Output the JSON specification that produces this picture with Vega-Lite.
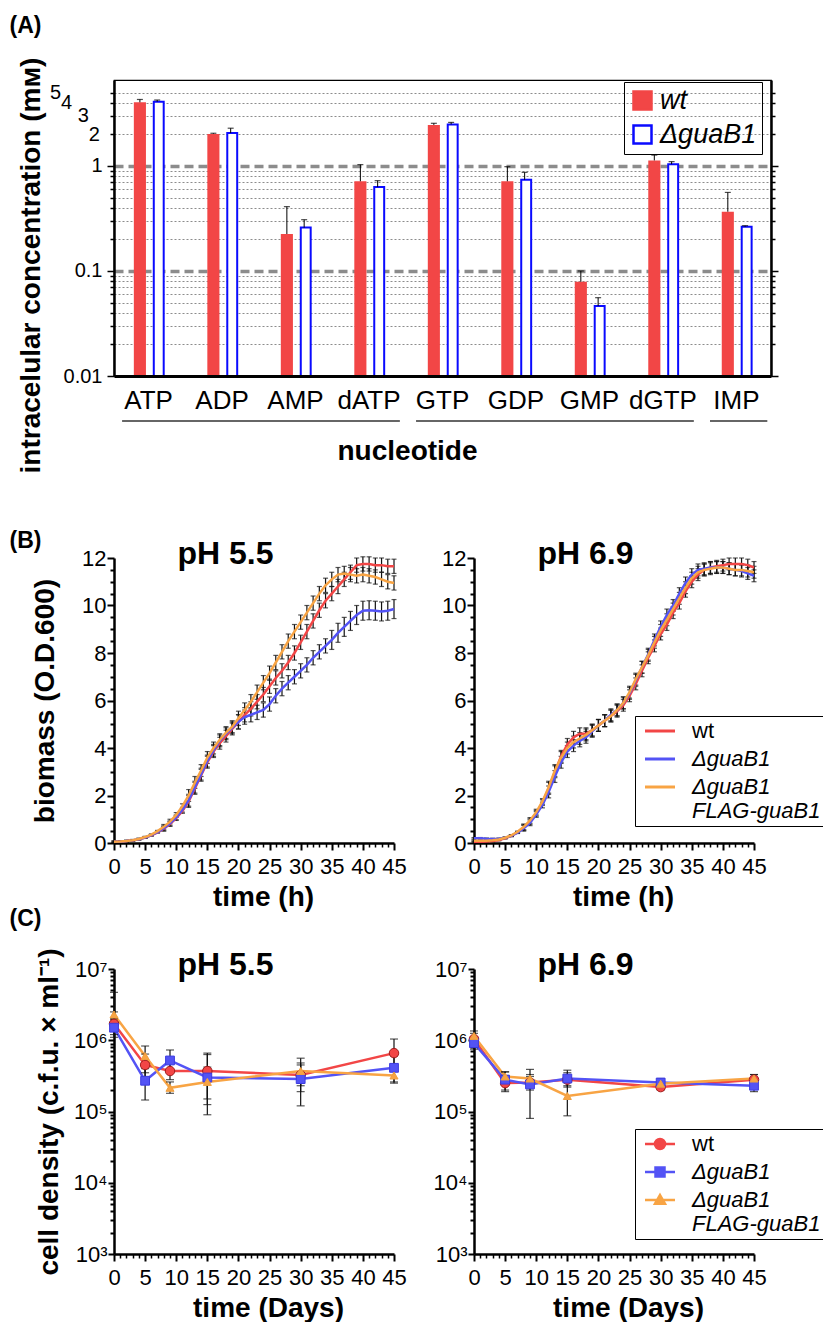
{
  "$schema": "https://vega.github.io/schema/vega-lite/v6.json",
  "background": "white",
  "padding": {"left": 8, "top": 13, "right": 0, "bottom": 0},
  "config": {
    "font": "Liberation Sans",
    "view": {"stroke": null},
    "axis": {"labelFont": "Liberation Sans", "titleFont": "Liberation Sans", "labelColor": "black", "titleColor": "black", "domainColor": "black", "tickColor": "black", "domainWidth": 2.5, "tickWidth": 2, "labelFontSize": 22, "titleFontSize": 28, "titleFontWeight": "bold", "grid": false, "labelOverlap": false, "labelBound": false, "labelFlush": false},
    "legend": {"labelFont": "Liberation Sans", "labelColor": "black"}
  },
  "datasets": {
    "A": [
      {"n":"ATP","s":"wt","v":4.04,"hi":4.3},
      {"n":"ATP","s":"ΔguaB1","v":4.1,"hi":4.25},
      {"n":"ADP","s":"wt","v":2.02,"hi":2.05},
      {"n":"ADP","s":"ΔguaB1","v":2.06,"hi":2.29},
      {"n":"AMP","s":"wt","v":0.225,"hi":0.41},
      {"n":"AMP","s":"ΔguaB1","v":0.259,"hi":0.308},
      {"n":"dATP","s":"wt","v":0.715,"hi":1.03},
      {"n":"dATP","s":"ΔguaB1","v":0.63,"hi":0.725},
      {"n":"GTP","s":"wt","v":2.46,"hi":2.55},
      {"n":"GTP","s":"ΔguaB1","v":2.49,"hi":2.6},
      {"n":"GDP","s":"wt","v":0.715,"hi":0.985},
      {"n":"GDP","s":"ΔguaB1","v":0.74,"hi":0.87},
      {"n":"GMP","s":"wt","v":0.079,"hi":0.1},
      {"n":"GMP","s":"ΔguaB1","v":0.0464,"hi":0.0557},
      {"n":"dGTP","s":"wt","v":1.13,"hi":1.27},
      {"n":"dGTP","s":"ΔguaB1","v":1.04,"hi":1.1},
      {"n":"IMP","s":"wt","v":0.367,"hi":0.56},
      {"n":"IMP","s":"ΔguaB1","v":0.264,"hi":0.27}
    ],
    "ul": [
      {"a":"ATP","b":"dATP"},
      {"a":"GTP","b":"dGTP"},
      {"a":"IMP","b":"IMP"}
    ],
    "B55": [
      {"s":"wt","t":0,"v":0.05,"e":0.03},{"s":"wt","t":1,"v":0.06,"e":0.03},{"s":"wt","t":2,"v":0.08,"e":0.03},{"s":"wt","t":3,"v":0.11,"e":0.03},{"s":"wt","t":4,"v":0.16,"e":0.03},{"s":"wt","t":5,"v":0.23,"e":0.03},{"s":"wt","t":6,"v":0.32,"e":0.03},{"s":"wt","t":7,"v":0.45,"e":0.03},{"s":"wt","t":8,"v":0.6,"e":0.1},{"s":"wt","t":9,"v":0.8,"e":0.1},
      {"s":"wt","t":10,"v":1.05,"e":0.1},{"s":"wt","t":11,"v":1.35,"e":0.1},{"s":"wt","t":12,"v":1.75,"e":0.25},{"s":"wt","t":13,"v":2.3,"e":0.25},{"s":"wt","t":14,"v":2.85,"e":0.25},{"s":"wt","t":15,"v":3.4,"e":0.25},{"s":"wt","t":16,"v":3.85,"e":0.25},{"s":"wt","t":17,"v":4.2,"e":0.25},{"s":"wt","t":18,"v":4.5,"e":0.25},{"s":"wt","t":19,"v":4.8,"e":0.25},
      {"s":"wt","t":20,"v":5.1,"e":0.3},{"s":"wt","t":21,"v":5.4,"e":0.3},{"s":"wt","t":22,"v":5.65,"e":0.3},{"s":"wt","t":23,"v":5.95,"e":0.3},{"s":"wt","t":24,"v":6.25,"e":0.3},{"s":"wt","t":25,"v":6.6,"e":0.3},{"s":"wt","t":26,"v":6.95,"e":0.3},{"s":"wt","t":27,"v":7.25,"e":0.3},{"s":"wt","t":28,"v":7.6,"e":0.3},{"s":"wt","t":29,"v":8.0,"e":0.3},
      {"s":"wt","t":30,"v":8.45,"e":0.3},{"s":"wt","t":31,"v":8.9,"e":0.3},{"s":"wt","t":32,"v":9.35,"e":0.3},{"s":"wt","t":33,"v":9.8,"e":0.3},{"s":"wt","t":34,"v":10.2,"e":0.3},{"s":"wt","t":35,"v":10.5,"e":0.3},{"s":"wt","t":36,"v":10.8,"e":0.3},{"s":"wt","t":37,"v":11.1,"e":0.3},{"s":"wt","t":38,"v":11.4,"e":0.3},{"s":"wt","t":39,"v":11.7,"e":0.3},
      {"s":"wt","t":40,"v":11.75,"e":0.3},{"s":"wt","t":41,"v":11.75,"e":0.3},{"s":"wt","t":42,"v":11.7,"e":0.3},{"s":"wt","t":43,"v":11.7,"e":0.3},{"s":"wt","t":44,"v":11.65,"e":0.3},{"s":"wt","t":45,"v":11.65,"e":0.3},
      {"s":"ΔguaB1","t":0,"v":0.05,"e":0.03},{"s":"ΔguaB1","t":1,"v":0.06,"e":0.03},{"s":"ΔguaB1","t":2,"v":0.08,"e":0.03},{"s":"ΔguaB1","t":3,"v":0.11,"e":0.03},{"s":"ΔguaB1","t":4,"v":0.16,"e":0.03},{"s":"ΔguaB1","t":5,"v":0.23,"e":0.03},{"s":"ΔguaB1","t":6,"v":0.33,"e":0.03},{"s":"ΔguaB1","t":7,"v":0.46,"e":0.03},{"s":"ΔguaB1","t":8,"v":0.62,"e":0.1},{"s":"ΔguaB1","t":9,"v":0.83,"e":0.1},
      {"s":"ΔguaB1","t":10,"v":1.08,"e":0.1},{"s":"ΔguaB1","t":11,"v":1.4,"e":0.1},{"s":"ΔguaB1","t":12,"v":1.8,"e":0.25},{"s":"ΔguaB1","t":13,"v":2.35,"e":0.25},{"s":"ΔguaB1","t":14,"v":2.9,"e":0.25},{"s":"ΔguaB1","t":15,"v":3.45,"e":0.25},{"s":"ΔguaB1","t":16,"v":3.9,"e":0.25},{"s":"ΔguaB1","t":17,"v":4.3,"e":0.25},{"s":"ΔguaB1","t":18,"v":4.6,"e":0.25},{"s":"ΔguaB1","t":19,"v":4.85,"e":0.25},
      {"s":"ΔguaB1","t":20,"v":5.1,"e":0.3},{"s":"ΔguaB1","t":21,"v":5.3,"e":0.3},{"s":"ΔguaB1","t":22,"v":5.4,"e":0.3},{"s":"ΔguaB1","t":23,"v":5.5,"e":0.3},{"s":"ΔguaB1","t":24,"v":5.6,"e":0.3},{"s":"ΔguaB1","t":25,"v":5.85,"e":0.3},{"s":"ΔguaB1","t":26,"v":6.2,"e":0.3},{"s":"ΔguaB1","t":27,"v":6.5,"e":0.3},{"s":"ΔguaB1","t":28,"v":6.75,"e":0.3},{"s":"ΔguaB1","t":29,"v":7.0,"e":0.3},
      {"s":"ΔguaB1","t":30,"v":7.25,"e":0.3},{"s":"ΔguaB1","t":31,"v":7.5,"e":0.3},{"s":"ΔguaB1","t":32,"v":7.8,"e":0.3},{"s":"ΔguaB1","t":33,"v":8.05,"e":0.3},{"s":"ΔguaB1","t":34,"v":8.3,"e":0.3},{"s":"ΔguaB1","t":35,"v":8.55,"e":0.4},{"s":"ΔguaB1","t":36,"v":8.85,"e":0.4},{"s":"ΔguaB1","t":37,"v":9.1,"e":0.4},{"s":"ΔguaB1","t":38,"v":9.35,"e":0.4},{"s":"ΔguaB1","t":39,"v":9.6,"e":0.4},
      {"s":"ΔguaB1","t":40,"v":9.78,"e":0.4},{"s":"ΔguaB1","t":41,"v":9.8,"e":0.4},{"s":"ΔguaB1","t":42,"v":9.78,"e":0.4},{"s":"ΔguaB1","t":43,"v":9.75,"e":0.4},{"s":"ΔguaB1","t":44,"v":9.78,"e":0.4},{"s":"ΔguaB1","t":45,"v":9.85,"e":0.4},
      {"s":"ΔguaB1 FLAG-guaB1","t":0,"v":0.05,"e":0.03},{"s":"ΔguaB1 FLAG-guaB1","t":1,"v":0.06,"e":0.03},{"s":"ΔguaB1 FLAG-guaB1","t":2,"v":0.08,"e":0.03},{"s":"ΔguaB1 FLAG-guaB1","t":3,"v":0.12,"e":0.03},{"s":"ΔguaB1 FLAG-guaB1","t":4,"v":0.17,"e":0.03},{"s":"ΔguaB1 FLAG-guaB1","t":5,"v":0.25,"e":0.03},{"s":"ΔguaB1 FLAG-guaB1","t":6,"v":0.35,"e":0.03},{"s":"ΔguaB1 FLAG-guaB1","t":7,"v":0.5,"e":0.03},{"s":"ΔguaB1 FLAG-guaB1","t":8,"v":0.68,"e":0.1},{"s":"ΔguaB1 FLAG-guaB1","t":9,"v":0.9,"e":0.1},
      {"s":"ΔguaB1 FLAG-guaB1","t":10,"v":1.18,"e":0.1},{"s":"ΔguaB1 FLAG-guaB1","t":11,"v":1.55,"e":0.1},{"s":"ΔguaB1 FLAG-guaB1","t":12,"v":2.0,"e":0.25},{"s":"ΔguaB1 FLAG-guaB1","t":13,"v":2.55,"e":0.25},{"s":"ΔguaB1 FLAG-guaB1","t":14,"v":3.05,"e":0.25},{"s":"ΔguaB1 FLAG-guaB1","t":15,"v":3.6,"e":0.25},{"s":"ΔguaB1 FLAG-guaB1","t":16,"v":4.0,"e":0.25},{"s":"ΔguaB1 FLAG-guaB1","t":17,"v":4.35,"e":0.25},{"s":"ΔguaB1 FLAG-guaB1","t":18,"v":4.65,"e":0.25},{"s":"ΔguaB1 FLAG-guaB1","t":19,"v":4.9,"e":0.25},
      {"s":"ΔguaB1 FLAG-guaB1","t":20,"v":5.25,"e":0.3},{"s":"ΔguaB1 FLAG-guaB1","t":21,"v":5.6,"e":0.3},{"s":"ΔguaB1 FLAG-guaB1","t":22,"v":5.95,"e":0.3},{"s":"ΔguaB1 FLAG-guaB1","t":23,"v":6.35,"e":0.3},{"s":"ΔguaB1 FLAG-guaB1","t":24,"v":6.75,"e":0.3},{"s":"ΔguaB1 FLAG-guaB1","t":25,"v":7.15,"e":0.3},{"s":"ΔguaB1 FLAG-guaB1","t":26,"v":7.6,"e":0.3},{"s":"ΔguaB1 FLAG-guaB1","t":27,"v":8.05,"e":0.3},{"s":"ΔguaB1 FLAG-guaB1","t":28,"v":8.5,"e":0.3},{"s":"ΔguaB1 FLAG-guaB1","t":29,"v":8.9,"e":0.3},
      {"s":"ΔguaB1 FLAG-guaB1","t":30,"v":9.3,"e":0.3},{"s":"ΔguaB1 FLAG-guaB1","t":31,"v":9.7,"e":0.3},{"s":"ΔguaB1 FLAG-guaB1","t":32,"v":10.1,"e":0.3},{"s":"ΔguaB1 FLAG-guaB1","t":33,"v":10.5,"e":0.3},{"s":"ΔguaB1 FLAG-guaB1","t":34,"v":10.85,"e":0.3},{"s":"ΔguaB1 FLAG-guaB1","t":35,"v":11.1,"e":0.3},{"s":"ΔguaB1 FLAG-guaB1","t":36,"v":11.3,"e":0.3},{"s":"ΔguaB1 FLAG-guaB1","t":37,"v":11.35,"e":0.3},{"s":"ΔguaB1 FLAG-guaB1","t":38,"v":11.3,"e":0.3},{"s":"ΔguaB1 FLAG-guaB1","t":39,"v":11.25,"e":0.3},
      {"s":"ΔguaB1 FLAG-guaB1","t":40,"v":11.3,"e":0.3},{"s":"ΔguaB1 FLAG-guaB1","t":41,"v":11.25,"e":0.3},{"s":"ΔguaB1 FLAG-guaB1","t":42,"v":11.2,"e":0.3},{"s":"ΔguaB1 FLAG-guaB1","t":43,"v":11.1,"e":0.3},{"s":"ΔguaB1 FLAG-guaB1","t":44,"v":11.0,"e":0.3},{"s":"ΔguaB1 FLAG-guaB1","t":45,"v":10.95,"e":0.3}
    ],
    "B69": [
      {"s":"wt","t":0,"v":0.05,"e":0.03},{"s":"wt","t":1,"v":0.05,"e":0.03},{"s":"wt","t":2,"v":0.06,"e":0.03},{"s":"wt","t":3,"v":0.08,"e":0.03},{"s":"wt","t":4,"v":0.12,"e":0.03},{"s":"wt","t":5,"v":0.2,"e":0.03},{"s":"wt","t":6,"v":0.3,"e":0.03},{"s":"wt","t":7,"v":0.45,"e":0.03},{"s":"wt","t":8,"v":0.65,"e":0.12},{"s":"wt","t":9,"v":0.9,"e":0.12},
      {"s":"wt","t":10,"v":1.25,"e":0.12},{"s":"wt","t":11,"v":1.7,"e":0.12},{"s":"wt","t":12,"v":2.3,"e":0.25},{"s":"wt","t":13,"v":3.0,"e":0.25},{"s":"wt","t":14,"v":3.65,"e":0.25},{"s":"wt","t":15,"v":4.15,"e":0.25},{"s":"wt","t":16,"v":4.45,"e":0.25},{"s":"wt","t":17,"v":4.6,"e":0.25},{"s":"wt","t":18,"v":4.6,"e":0.25},{"s":"wt","t":19,"v":4.75,"e":0.25},
      {"s":"wt","t":20,"v":4.95,"e":0.25},{"s":"wt","t":21,"v":5.15,"e":0.25},{"s":"wt","t":22,"v":5.35,"e":0.25},{"s":"wt","t":23,"v":5.55,"e":0.25},{"s":"wt","t":24,"v":5.8,"e":0.25},{"s":"wt","t":25,"v":6.2,"e":0.25},{"s":"wt","t":26,"v":6.7,"e":0.25},{"s":"wt","t":27,"v":7.25,"e":0.25},{"s":"wt","t":28,"v":7.8,"e":0.25},{"s":"wt","t":29,"v":8.3,"e":0.25},
      {"s":"wt","t":30,"v":8.8,"e":0.25},{"s":"wt","t":31,"v":9.2,"e":0.25},{"s":"wt","t":32,"v":9.7,"e":0.25},{"s":"wt","t":33,"v":10.1,"e":0.25},{"s":"wt","t":34,"v":10.6,"e":0.25},{"s":"wt","t":35,"v":11.0,"e":0.25},{"s":"wt","t":36,"v":11.3,"e":0.25},{"s":"wt","t":37,"v":11.5,"e":0.25},{"s":"wt","t":38,"v":11.6,"e":0.25},{"s":"wt","t":39,"v":11.65,"e":0.25},
      {"s":"wt","t":40,"v":11.7,"e":0.25},{"s":"wt","t":41,"v":11.75,"e":0.25},{"s":"wt","t":42,"v":11.75,"e":0.25},{"s":"wt","t":43,"v":11.75,"e":0.25},{"s":"wt","t":44,"v":11.7,"e":0.25},{"s":"wt","t":45,"v":11.6,"e":0.25},
      {"s":"ΔguaB1","t":0,"v":0.2,"e":0.03},{"s":"ΔguaB1","t":1,"v":0.2,"e":0.03},{"s":"ΔguaB1","t":2,"v":0.18,"e":0.03},{"s":"ΔguaB1","t":3,"v":0.17,"e":0.03},{"s":"ΔguaB1","t":4,"v":0.18,"e":0.03},{"s":"ΔguaB1","t":5,"v":0.22,"e":0.03},{"s":"ΔguaB1","t":6,"v":0.3,"e":0.03},{"s":"ΔguaB1","t":7,"v":0.43,"e":0.03},{"s":"ΔguaB1","t":8,"v":0.62,"e":0.12},{"s":"ΔguaB1","t":9,"v":0.85,"e":0.12},
      {"s":"ΔguaB1","t":10,"v":1.2,"e":0.12},{"s":"ΔguaB1","t":11,"v":1.6,"e":0.12},{"s":"ΔguaB1","t":12,"v":2.15,"e":0.25},{"s":"ΔguaB1","t":13,"v":2.8,"e":0.25},{"s":"ΔguaB1","t":14,"v":3.4,"e":0.25},{"s":"ΔguaB1","t":15,"v":3.85,"e":0.25},{"s":"ΔguaB1","t":16,"v":4.1,"e":0.25},{"s":"ΔguaB1","t":17,"v":4.3,"e":0.25},{"s":"ΔguaB1","t":18,"v":4.45,"e":0.25},{"s":"ΔguaB1","t":19,"v":4.7,"e":0.25},
      {"s":"ΔguaB1","t":20,"v":4.95,"e":0.25},{"s":"ΔguaB1","t":21,"v":5.15,"e":0.25},{"s":"ΔguaB1","t":22,"v":5.4,"e":0.25},{"s":"ΔguaB1","t":23,"v":5.6,"e":0.25},{"s":"ΔguaB1","t":24,"v":5.9,"e":0.25},{"s":"ΔguaB1","t":25,"v":6.3,"e":0.25},{"s":"ΔguaB1","t":26,"v":6.85,"e":0.25},{"s":"ΔguaB1","t":27,"v":7.4,"e":0.25},{"s":"ΔguaB1","t":28,"v":7.95,"e":0.25},{"s":"ΔguaB1","t":29,"v":8.55,"e":0.25},
      {"s":"ΔguaB1","t":30,"v":9.1,"e":0.25},{"s":"ΔguaB1","t":31,"v":9.6,"e":0.25},{"s":"ΔguaB1","t":32,"v":10.0,"e":0.25},{"s":"ΔguaB1","t":33,"v":10.5,"e":0.25},{"s":"ΔguaB1","t":34,"v":10.95,"e":0.25},{"s":"ΔguaB1","t":35,"v":11.3,"e":0.25},{"s":"ΔguaB1","t":36,"v":11.5,"e":0.25},{"s":"ΔguaB1","t":37,"v":11.55,"e":0.25},{"s":"ΔguaB1","t":38,"v":11.6,"e":0.25},{"s":"ΔguaB1","t":39,"v":11.6,"e":0.25},
      {"s":"ΔguaB1","t":40,"v":11.6,"e":0.25},{"s":"ΔguaB1","t":41,"v":11.55,"e":0.25},{"s":"ΔguaB1","t":42,"v":11.5,"e":0.25},{"s":"ΔguaB1","t":43,"v":11.45,"e":0.25},{"s":"ΔguaB1","t":44,"v":11.35,"e":0.25},{"s":"ΔguaB1","t":45,"v":11.25,"e":0.25},
      {"s":"ΔguaB1 FLAG-guaB1","t":0,"v":0.1,"e":0.03},{"s":"ΔguaB1 FLAG-guaB1","t":1,"v":0.1,"e":0.03},{"s":"ΔguaB1 FLAG-guaB1","t":2,"v":0.1,"e":0.03},{"s":"ΔguaB1 FLAG-guaB1","t":3,"v":0.12,"e":0.03},{"s":"ΔguaB1 FLAG-guaB1","t":4,"v":0.15,"e":0.03},{"s":"ΔguaB1 FLAG-guaB1","t":5,"v":0.22,"e":0.03},{"s":"ΔguaB1 FLAG-guaB1","t":6,"v":0.32,"e":0.03},{"s":"ΔguaB1 FLAG-guaB1","t":7,"v":0.47,"e":0.03},{"s":"ΔguaB1 FLAG-guaB1","t":8,"v":0.68,"e":0.12},{"s":"ΔguaB1 FLAG-guaB1","t":9,"v":0.95,"e":0.12},
      {"s":"ΔguaB1 FLAG-guaB1","t":10,"v":1.3,"e":0.12},{"s":"ΔguaB1 FLAG-guaB1","t":11,"v":1.75,"e":0.12},{"s":"ΔguaB1 FLAG-guaB1","t":12,"v":2.35,"e":0.25},{"s":"ΔguaB1 FLAG-guaB1","t":13,"v":3.05,"e":0.25},{"s":"ΔguaB1 FLAG-guaB1","t":14,"v":3.6,"e":0.25},{"s":"ΔguaB1 FLAG-guaB1","t":15,"v":4.0,"e":0.25},{"s":"ΔguaB1 FLAG-guaB1","t":16,"v":4.25,"e":0.25},{"s":"ΔguaB1 FLAG-guaB1","t":17,"v":4.4,"e":0.25},{"s":"ΔguaB1 FLAG-guaB1","t":18,"v":4.55,"e":0.25},{"s":"ΔguaB1 FLAG-guaB1","t":19,"v":4.75,"e":0.25},
      {"s":"ΔguaB1 FLAG-guaB1","t":20,"v":4.95,"e":0.25},{"s":"ΔguaB1 FLAG-guaB1","t":21,"v":5.15,"e":0.25},{"s":"ΔguaB1 FLAG-guaB1","t":22,"v":5.35,"e":0.25},{"s":"ΔguaB1 FLAG-guaB1","t":23,"v":5.6,"e":0.25},{"s":"ΔguaB1 FLAG-guaB1","t":24,"v":5.9,"e":0.25},{"s":"ΔguaB1 FLAG-guaB1","t":25,"v":6.35,"e":0.25},{"s":"ΔguaB1 FLAG-guaB1","t":26,"v":6.9,"e":0.25},{"s":"ΔguaB1 FLAG-guaB1","t":27,"v":7.4,"e":0.25},{"s":"ΔguaB1 FLAG-guaB1","t":28,"v":7.9,"e":0.25},{"s":"ΔguaB1 FLAG-guaB1","t":29,"v":8.45,"e":0.25},
      {"s":"ΔguaB1 FLAG-guaB1","t":30,"v":8.95,"e":0.25},{"s":"ΔguaB1 FLAG-guaB1","t":31,"v":9.4,"e":0.25},{"s":"ΔguaB1 FLAG-guaB1","t":32,"v":9.85,"e":0.25},{"s":"ΔguaB1 FLAG-guaB1","t":33,"v":10.3,"e":0.25},{"s":"ΔguaB1 FLAG-guaB1","t":34,"v":10.75,"e":0.25},{"s":"ΔguaB1 FLAG-guaB1","t":35,"v":11.15,"e":0.25},{"s":"ΔguaB1 FLAG-guaB1","t":36,"v":11.4,"e":0.25},{"s":"ΔguaB1 FLAG-guaB1","t":37,"v":11.5,"e":0.25},{"s":"ΔguaB1 FLAG-guaB1","t":38,"v":11.55,"e":0.25},{"s":"ΔguaB1 FLAG-guaB1","t":39,"v":11.6,"e":0.25},
      {"s":"ΔguaB1 FLAG-guaB1","t":40,"v":11.6,"e":0.25},{"s":"ΔguaB1 FLAG-guaB1","t":41,"v":11.55,"e":0.25},{"s":"ΔguaB1 FLAG-guaB1","t":42,"v":11.5,"e":0.25},{"s":"ΔguaB1 FLAG-guaB1","t":43,"v":11.5,"e":0.25},{"s":"ΔguaB1 FLAG-guaB1","t":44,"v":11.45,"e":0.25},{"s":"ΔguaB1 FLAG-guaB1","t":45,"v":11.4,"e":0.25}
    ],
    "C55": [
      {"s":"wt","t":0,"v":1700000,"lo":1200000,"hi":2500000},
      {"s":"wt","t":5,"v":450000,"lo":240000,"hi":640000},
      {"s":"wt","t":9,"v":370000,"lo":280000,"hi":500000},
      {"s":"wt","t":15,"v":370000,"lo":125000,"hi":630000},
      {"s":"wt","t":30,"v":325000,"lo":190000,"hi":560000},
      {"s":"wt","t":45,"v":660000,"lo":420000,"hi":1040000},
      {"s":"ΔguaB1","t":0,"v":1500000,"lo":1100000,"hi":2000000},
      {"s":"ΔguaB1","t":5,"v":270000,"lo":145000,"hi":400000},
      {"s":"ΔguaB1","t":9,"v":520000,"lo":360000,"hi":730000},
      {"s":"ΔguaB1","t":15,"v":300000,"lo":90000,"hi":660000},
      {"s":"ΔguaB1","t":30,"v":285000,"lo":120000,"hi":450000},
      {"s":"ΔguaB1","t":45,"v":410000,"lo":260000,"hi":600000},
      {"s":"ΔguaB1 FLAG-guaB1","t":0,"v":2300000,"lo":1400000,"hi":4700000},
      {"s":"ΔguaB1 FLAG-guaB1","t":5,"v":600000,"lo":350000,"hi":830000},
      {"s":"ΔguaB1 FLAG-guaB1","t":9,"v":215000,"lo":180000,"hi":260000},
      {"s":"ΔguaB1 FLAG-guaB1","t":15,"v":260000,"lo":150000,"hi":420000},
      {"s":"ΔguaB1 FLAG-guaB1","t":30,"v":370000,"lo":230000,"hi":480000},
      {"s":"ΔguaB1 FLAG-guaB1","t":45,"v":320000,"lo":250000,"hi":400000}
    ],
    "C69": [
      {"s":"wt","t":0,"v":1040000,"lo":900000,"hi":1250000},
      {"s":"wt","t":5,"v":250000,"lo":190000,"hi":320000},
      {"s":"wt","t":9,"v":255000,"lo":200000,"hi":390000},
      {"s":"wt","t":15,"v":280000,"lo":220000,"hi":380000},
      {"s":"wt","t":30,"v":220000,"lo":200000,"hi":240000},
      {"s":"wt","t":45,"v":280000,"lo":240000,"hi":330000},
      {"s":"ΔguaB1","t":0,"v":910000,"lo":750000,"hi":1100000},
      {"s":"ΔguaB1","t":5,"v":280000,"lo":200000,"hi":360000},
      {"s":"ΔguaB1","t":9,"v":240000,"lo":80000,"hi":310000},
      {"s":"ΔguaB1","t":15,"v":290000,"lo":230000,"hi":350000},
      {"s":"ΔguaB1","t":30,"v":255000,"lo":220000,"hi":290000},
      {"s":"ΔguaB1","t":45,"v":230000,"lo":190000,"hi":270000},
      {"s":"ΔguaB1 FLAG-guaB1","t":0,"v":1150000,"lo":950000,"hi":1350000},
      {"s":"ΔguaB1 FLAG-guaB1","t":5,"v":310000,"lo":250000,"hi":360000},
      {"s":"ΔguaB1 FLAG-guaB1","t":9,"v":290000,"lo":230000,"hi":330000},
      {"s":"ΔguaB1 FLAG-guaB1","t":15,"v":165000,"lo":87000,"hi":260000},
      {"s":"ΔguaB1 FLAG-guaB1","t":30,"v":245000,"lo":220000,"hi":270000},
      {"s":"ΔguaB1 FLAG-guaB1","t":45,"v":290000,"lo":250000,"hi":330000}
    ]
  },
  "spacing": 182,
  "bounds": "flush",
  "resolve": {
    "scale": {"x": "independent", "y": "independent", "xOffset": "independent", "color": "independent", "fill": "independent", "stroke": "independent", "shape": "independent", "size": "independent"},
    "axis": {"x": "independent", "y": "independent"},
    "legend": {"color": "independent", "fill": "independent", "stroke": "independent", "shape": "independent", "size": "independent"}
  },
  "vconcat": [
    {
      "width": 657,
      "height": 296,
      "view": {"stroke": "black", "strokeWidth": 1.2},
      "data": {"name": "A"},
      "layer": [
        {
          "transform": [{"filter": "datum.s == 'wt'"}],
          "mark": {"type": "bar", "strokeWidth": 0},
          "encoding": {
            "x": {"field": "n", "type": "nominal", "scale": {"domain": ["ATP","ADP","AMP","dATP","GTP","GDP","GMP","dGTP","IMP"], "paddingInner": 0.6, "paddingOuter": 0.27},
              "axis": {"orient": "bottom", "title": "nucleotide", "ticks": false, "labelAngle": 0, "labelFontSize": 26, "labelPadding": 11, "titlePadding": 24, "titleX": 293, "domainWidth": 3, "zindex": 1}},
            "xOffset": {"field": "s", "type": "nominal", "scale": {"domain": ["wt","ΔguaB1"], "paddingInner": 0.3, "paddingOuter": 0}},
            "y": {"field": "v", "type": "quantitative", "scale": {"type": "log", "domain": [0.01, 6.59], "nice": false},
              "axis": {"orient": "left", "values": [0.01,0.02,0.03,0.04,0.05,0.06,0.07,0.08,0.09,0.1,0.2,0.3,0.4,0.5,0.6,0.7,0.8,0.9,1,2,3,4,5],
                "labelExpr": "datum.value == 0.01 ? '0.01' : datum.value == 0.1 ? '0.1' : datum.value == 1 ? '1' : datum.value == 2 ? '2\u00a0\u200b' : datum.value == 3 ? '3\u00a0\u00a0\u00a0\u200b' : datum.value == 4 ? '4\u00a0\u00a0\u00a0\u00a0\u00a0\u00a0\u200b' : datum.value == 5 ? '5\u00a0\u00a0\u00a0\u00a0\u00a0\u00a0\u00a0\u00a0\u200b' : ''",
                "labelFontSize": 20, "labelPadding": 5,
                "tickSize": {"condition": {"test": "datum.value == 0.01 || datum.value == 0.1 || datum.value == 1", "value": 7}, "value": 4},
                "tickWidth": 1.5,
                "grid": true, "gridColor": "#8c8c8c",
                "gridDash": {"condition": {"test": "datum.value == 0.1 || datum.value == 1", "value": [9, 5]}, "value": [2, 2]},
                "gridWidth": {"condition": {"test": "datum.value == 0.1 || datum.value == 1", "value": 3.5}, "value": 1},
                "title": "intracelular concentration (mᴍ)", "titleY": 185, "titlePadding": 4}},
            "y2": {"datum": 0.01},
            "fill": {"field": "s", "type": "nominal", "scale": {"domain": ["wt","ΔguaB1"], "range": ["#f24646","white"]},
              "legend": {"title": null, "orient": "none", "legendX": 510, "legendY": 2, "symbolType": "square", "symbolSize": 324, "symbolStrokeWidth": 2.5, "labelFontSize": 27, "labelFontStyle": "italic", "labelOffset": 4, "strokeColor": "black", "padding": 5, "rowPadding": 5}},
            "stroke": {"field": "s", "type": "nominal", "scale": {"domain": ["wt","ΔguaB1"], "range": ["#f24646","#0a0aff"]},
              "legend": {"title": null, "orient": "none", "legendX": 510, "legendY": 2, "symbolType": "square", "symbolSize": 324, "symbolStrokeWidth": 2.5, "labelFontSize": 27, "labelFontStyle": "italic", "labelOffset": 4, "strokeColor": "black", "padding": 5, "rowPadding": 5}}
          }
        },
        {
          "transform": [{"filter": "datum.s != 'wt'"}],
          "mark": {"type": "bar", "fill": "white", "stroke": "#0a0aff", "strokeWidth": 2, "width": {"band": 0.82}},
          "encoding": {
            "x": {"field": "n", "type": "nominal", "scale": {"domain": ["ATP","ADP","AMP","dATP","GTP","GDP","GMP","dGTP","IMP"]},
              "axis": {"orient": "top", "domain": false, "ticks": false, "labels": false, "title": "(A)", "titleFontSize": 23, "titleX": -105, "titleY": -48, "titleAlign": "left", "titleBaseline": "alphabetic"}},
            "xOffset": {"field": "s", "type": "nominal", "scale": {"domain": ["wt","ΔguaB1"]}},
            "y": {"field": "v", "type": "quantitative",
              "axis": {"orient": "right", "values": [0.01,0.02,0.03,0.04,0.05,0.06,0.07,0.08,0.09,0.1,0.2,0.3,0.4,0.5,0.6,0.7,0.8,0.9,1,2,3,4,5], "labels": false, "title": null, "grid": false,
                "tickSize": {"condition": {"test": "datum.value == 0.01 || datum.value == 0.1 || datum.value == 1", "value": 7}, "value": 4}, "tickWidth": 1.5}},
            "y2": {"datum": 0.01}
          }
        },
        {
          "mark": {"type": "rule", "color": "black", "strokeWidth": 1},
          "encoding": {
            "x": {"field": "n", "type": "nominal", "scale": {"domain": ["ATP","ADP","AMP","dATP","GTP","GDP","GMP","dGTP","IMP"]}, "axis": null},
            "xOffset": {"field": "s", "type": "nominal", "scale": {"domain": ["wt","ΔguaB1"]}},
            "y": {"field": "v", "type": "quantitative", "axis": null},
            "y2": {"field": "hi"}
          }
        },
        {
          "mark": {"type": "tick", "color": "black", "size": 6, "thickness": 1.2},
          "encoding": {
            "x": {"field": "n", "type": "nominal", "scale": {"domain": ["ATP","ADP","AMP","dATP","GTP","GDP","GMP","dGTP","IMP"]}, "axis": null},
            "xOffset": {"field": "s", "type": "nominal", "scale": {"domain": ["wt","ΔguaB1"]}},
            "y": {"field": "hi", "type": "quantitative", "axis": null}
          }
        },
        {
          "data": {"name": "ul"},
          "mark": {"type": "rule", "color": "#333333", "strokeWidth": 1.5},
          "encoding": {
            "x": {"field": "a", "type": "nominal", "scale": {"domain": ["ATP","ADP","AMP","dATP","GTP","GDP","GMP","dGTP","IMP"]}, "bandPosition": -0.4, "axis": null},
            "x2": {"field": "b", "bandPosition": 1.55},
            "y": {"datum": 0.00373, "axis": null}
          }
        }
      ],
      "resolve": {"axis": {"x": "independent", "y": "independent"}}
    },
    {
      "columns": 2,
      "spacing": {"row": 126, "column": 80},
      "bounds": "flush",
      "resolve": {
        "scale": {"x": "independent", "y": "independent", "color": "independent", "stroke": "independent", "shape": "independent", "size": "independent"},
        "axis": {"x": "independent", "y": "independent"},
        "legend": {"color": "independent", "stroke": "independent", "shape": "independent", "size": "independent"}
      },
      "concat": [
        {
          "width": 280, "height": 285,
          "data": {"name": "B55"},
          "layer": [
            {
              "mark": {"type": "errorbar", "ticks": true, "size": 5, "thickness": 1.2, "color": "#111111"},
              "encoding": {
                "x": {"field": "t", "type": "quantitative", "scale": {"domain": [0, 45], "nice": false},
                  "axis": {"orient": "bottom", "values": [0,1,2,3,4,5,6,7,8,9,10,11,12,13,14,15,16,17,18,19,20,21,22,23,24,25,26,27,28,29,30,31,32,33,34,35,36,37,38,39,40,41,42,43,44,45],
                    "labelExpr": "datum.value % 5 == 0 ? datum.label : ''",
                    "tickSize": {"condition": {"test": "datum.value % 5 == 0", "value": 7}, "value": 4},
                    "tickWidth": {"condition": {"test": "datum.value % 5 == 0", "value": 2}, "value": 1.5},
                    "labelPadding": 6, "title": "time (h)", "titleX": 149, "titlePadding": 6}},
                "y": {"field": "v", "type": "quantitative", "scale": {"domain": [0, 12], "nice": false},
                  "axis": {"orient": "left", "values": [0,0.5,1,1.5,2,2.5,3,3.5,4,4.5,5,5.5,6,6.5,7,7.5,8,8.5,9,9.5,10,10.5,11,11.5,12],
                    "labelExpr": "datum.value % 2 == 0 ? format(datum.value, 'd') : ''",
                    "tickSize": {"condition": {"test": "datum.value % 2 == 0", "value": 7}, "value": 4},
                    "labelPadding": 1, "title": "biomass (O.D.600)", "titlePadding": 22}},
                "yError": {"field": "e"}
              }
            },
            {
              "mark": {"type": "line", "strokeWidth": 2.5},
              "encoding": {
                "x": {"field": "t", "type": "quantitative",
                  "axis": {"orient": "top", "domain": false, "ticks": false, "labels": false, "title": "pH 5.5", "titleFontSize": 32, "titleX": 111, "titleY": 5, "titleAlign": "center", "titleBaseline": "alphabetic"}},
                "y": {"field": "v", "type": "quantitative",
                  "axis": {"orient": "right", "domain": false, "ticks": false, "labels": false, "title": "(B)", "titleFontSize": 23, "titleAngle": 0, "titleX": -385, "titleY": -11, "titleAlign": "left", "titleBaseline": "alphabetic"}},
                "color": {"field": "s", "type": "nominal", "scale": {"domain": ["wt","ΔguaB1","ΔguaB1 FLAG-guaB1"], "range": ["#f24646","#5353f5","#f8a444"]}, "legend": null}
              }
            }
          ],
          "resolve": {"axis": {"x": "independent", "y": "independent"}}
        },
        {
          "width": 280, "height": 285,
          "data": {"name": "B69"},
          "layer": [
            {
              "mark": {"type": "errorbar", "ticks": true, "size": 5, "thickness": 1.2, "color": "#111111"},
              "encoding": {
                "x": {"field": "t", "type": "quantitative", "scale": {"domain": [0, 45], "nice": false},
                  "axis": {"orient": "bottom", "values": [0,1,2,3,4,5,6,7,8,9,10,11,12,13,14,15,16,17,18,19,20,21,22,23,24,25,26,27,28,29,30,31,32,33,34,35,36,37,38,39,40,41,42,43,44,45],
                    "labelExpr": "datum.value % 5 == 0 ? datum.label : ''",
                    "tickSize": {"condition": {"test": "datum.value % 5 == 0", "value": 7}, "value": 4},
                    "tickWidth": {"condition": {"test": "datum.value % 5 == 0", "value": 2}, "value": 1.5},
                    "labelPadding": 6, "title": "time (h)", "titleX": 149, "titlePadding": 6}},
                "y": {"field": "v", "type": "quantitative", "scale": {"domain": [0, 12], "nice": false},
                  "axis": {"orient": "left", "values": [0,0.5,1,1.5,2,2.5,3,3.5,4,4.5,5,5.5,6,6.5,7,7.5,8,8.5,9,9.5,10,10.5,11,11.5,12],
                    "labelExpr": "datum.value % 2 == 0 ? format(datum.value, 'd') : ''",
                    "tickSize": {"condition": {"test": "datum.value % 2 == 0", "value": 7}, "value": 4},
                    "labelPadding": 1, "title": null}},
                "yError": {"field": "e"}
              }
            },
            {
              "mark": {"type": "line", "strokeWidth": 2.5},
              "encoding": {
                "x": {"field": "t", "type": "quantitative",
                  "axis": {"orient": "top", "domain": false, "ticks": false, "labels": false, "title": "pH 6.9", "titleFontSize": 32, "titleX": 111, "titleY": 5, "titleAlign": "center", "titleBaseline": "alphabetic"}},
                "y": {"field": "v", "type": "quantitative", "axis": null},
                "color": {"field": "s", "type": "nominal", "scale": {"domain": ["wt","ΔguaB1","ΔguaB1 FLAG-guaB1"], "range": ["#f24646","#5353f5","#f8a444"]},
                  "legend": {"title": null, "orient": "none", "legendX": 161, "legendY": 158, "symbolType": "M-1,0H5", "symbolSize": 100, "symbolStrokeWidth": 3, "labelFontSize": 22, "labelOffset": 31, "strokeColor": "black", "padding": 4, "rowPadding": 6,
                    "labelExpr": "datum.value == 'ΔguaB1 FLAG-guaB1' ? ['ΔguaB1', 'FLAG-guaB1'] : datum.value",
                    "encode": {"labels": {"update": {"fontStyle": {"signal": "datum.value == 'wt' ? 'normal' : 'italic'"}}}}}}
              }
            }
          ],
          "resolve": {"axis": {"x": "independent", "y": "independent"}}
        },
        {
          "width": 280, "height": 285,
          "data": {"name": "C55"},
          "layer": [
            {
              "mark": {"type": "line", "strokeWidth": 2.5},
              "encoding": {
                "x": {"field": "t", "type": "quantitative", "scale": {"domain": [0, 45], "nice": false},
                  "axis": {"orient": "top", "domain": false, "ticks": false, "labels": false, "title": "pH 5.5", "titleFontSize": 32, "titleX": 111, "titleY": 5, "titleAlign": "center", "titleBaseline": "alphabetic"}},
                "y": {"field": "v", "type": "quantitative", "scale": {"type": "log", "domain": [1000, 10000000], "nice": false},
                  "axis": {"orient": "right", "domain": false, "ticks": false, "labels": false, "title": "(C)", "titleFontSize": 23, "titleAngle": 0, "titleX": -385, "titleY": -44, "titleAlign": "left", "titleBaseline": "alphabetic"}},
                "color": {"field": "s", "type": "nominal", "scale": {"domain": ["wt","ΔguaB1","ΔguaB1 FLAG-guaB1"], "range": ["#f24646","#5353f5","#f8a444"]}, "legend": null}
              }
            },
            {
              "mark": {"type": "errorbar", "ticks": true, "size": 8, "thickness": 1.2, "color": "#111111"},
              "encoding": {
                "x": {"field": "t", "type": "quantitative",
                  "axis": {"orient": "bottom", "values": [0,1,2,3,4,5,6,7,8,9,10,11,12,13,14,15,16,17,18,19,20,21,22,23,24,25,26,27,28,29,30,31,32,33,34,35,36,37,38,39,40,41,42,43,44,45],
                    "labelExpr": "datum.value % 5 == 0 ? datum.label : ''",
                    "tickSize": {"condition": {"test": "datum.value % 5 == 0", "value": 7}, "value": 4},
                    "tickWidth": {"condition": {"test": "datum.value % 5 == 0", "value": 2}, "value": 1.5},
                    "labelPadding": 6, "title": "time (Days)", "titleX": 154, "titlePadding": 6}},
                "y": {"field": "lo", "type": "quantitative",
                  "axis": {"orient": "left", "values": [1000,2000,3000,4000,5000,6000,7000,8000,9000,10000,20000,30000,40000,50000,60000,70000,80000,90000,100000,200000,300000,400000,500000,600000,700000,800000,900000,1000000,2000000,3000000,4000000,5000000,6000000,7000000,8000000,9000000,10000000],
                    "labelExpr": "datum.value == 1000 ? '10³' : datum.value == 10000 ? '10⁴' : datum.value == 100000 ? '10⁵' : datum.value == 1000000 ? '10⁶' : datum.value == 10000000 ? '10⁷' : ''",
                    "tickSize": {"condition": {"test": "indexof([1000,10000,100000,1000000,10000000], datum.value) >= 0", "value": 6}, "value": 4},
                    "labelPadding": 1, "title": "cell density (c.f.u. × ml⁻¹)", "titlePadding": 10}},
                "y2": {"field": "hi"}
              }
            },
            {
              "mark": {"type": "point", "filled": true, "opacity": 1, "strokeWidth": 1},
              "encoding": {
                "x": {"field": "t", "type": "quantitative", "axis": null},
                "y": {"field": "v", "type": "quantitative", "axis": null},
                "color": {"field": "s", "type": "nominal", "scale": {"domain": ["wt","ΔguaB1","ΔguaB1 FLAG-guaB1"], "range": ["#f24646","#5353f5","#f8a444"]}, "legend": null},
                "stroke": {"field": "s", "type": "nominal", "scale": {"domain": ["wt","ΔguaB1","ΔguaB1 FLAG-guaB1"], "range": ["#a01c1c","#3c3ce0","#f0a040"]}, "legend": null},
                "shape": {"field": "s", "type": "nominal", "scale": {"domain": ["wt","ΔguaB1","ΔguaB1 FLAG-guaB1"], "range": ["circle","square","triangle-up"]}, "legend": null},
                "size": {"field": "s", "type": "nominal", "scale": {"domain": ["wt","ΔguaB1","ΔguaB1 FLAG-guaB1"], "range": [90, 65, 45]}, "legend": null}
              }
            }
          ],
          "resolve": {"axis": {"x": "independent", "y": "independent"}}
        },
        {
          "width": 280, "height": 285,
          "data": {"name": "C69"},
          "layer": [
            {
              "mark": {"type": "line", "strokeWidth": 2.5},
              "encoding": {
                "x": {"field": "t", "type": "quantitative", "scale": {"domain": [0, 45], "nice": false},
                  "axis": {"orient": "top", "domain": false, "ticks": false, "labels": false, "title": "pH 6.9", "titleFontSize": 32, "titleX": 111, "titleY": 5, "titleAlign": "center", "titleBaseline": "alphabetic"}},
                "y": {"field": "v", "type": "quantitative", "scale": {"type": "log", "domain": [1000, 10000000], "nice": false}, "axis": null},
                "color": {"field": "s", "type": "nominal", "scale": {"domain": ["wt","ΔguaB1","ΔguaB1 FLAG-guaB1"], "range": ["#f24646","#5353f5","#f8a444"]}, "legend": null}
              }
            },
            {
              "mark": {"type": "errorbar", "ticks": true, "size": 8, "thickness": 1.2, "color": "#111111"},
              "encoding": {
                "x": {"field": "t", "type": "quantitative",
                  "axis": {"orient": "bottom", "values": [0,1,2,3,4,5,6,7,8,9,10,11,12,13,14,15,16,17,18,19,20,21,22,23,24,25,26,27,28,29,30,31,32,33,34,35,36,37,38,39,40,41,42,43,44,45],
                    "labelExpr": "datum.value % 5 == 0 ? datum.label : ''",
                    "tickSize": {"condition": {"test": "datum.value % 5 == 0", "value": 7}, "value": 4},
                    "tickWidth": {"condition": {"test": "datum.value % 5 == 0", "value": 2}, "value": 1.5},
                    "labelPadding": 6, "title": "time (Days)", "titleX": 154, "titlePadding": 6}},
                "y": {"field": "lo", "type": "quantitative",
                  "axis": {"orient": "left", "values": [1000,2000,3000,4000,5000,6000,7000,8000,9000,10000,20000,30000,40000,50000,60000,70000,80000,90000,100000,200000,300000,400000,500000,600000,700000,800000,900000,1000000,2000000,3000000,4000000,5000000,6000000,7000000,8000000,9000000,10000000],
                    "labelExpr": "datum.value == 1000 ? '10³' : datum.value == 10000 ? '10⁴' : datum.value == 100000 ? '10⁵' : datum.value == 1000000 ? '10⁶' : datum.value == 10000000 ? '10⁷' : ''",
                    "tickSize": {"condition": {"test": "indexof([1000,10000,100000,1000000,10000000], datum.value) >= 0", "value": 6}, "value": 4},
                    "labelPadding": 1, "title": null}},
                "y2": {"field": "hi"}
              }
            },
            {
              "mark": {"type": "point", "filled": true, "opacity": 1, "strokeWidth": 1},
              "encoding": {
                "x": {"field": "t", "type": "quantitative", "axis": null},
                "y": {"field": "v", "type": "quantitative", "axis": null},
                "color": {"field": "s", "type": "nominal", "scale": {"domain": ["wt","ΔguaB1","ΔguaB1 FLAG-guaB1"], "range": ["#f24646","#5353f5","#f8a444"]}, "legend": null},
                "stroke": {"field": "s", "type": "nominal", "scale": {"domain": ["wt","ΔguaB1","ΔguaB1 FLAG-guaB1"], "range": ["#a01c1c","#3c3ce0","#f0a040"]}, "legend": null},
                "shape": {"field": "s", "type": "nominal", "scale": {"domain": ["wt","ΔguaB1","ΔguaB1 FLAG-guaB1"], "range": ["circle","square","triangle-up"]}, "legend": null},
                "size": {"field": "s", "type": "nominal", "scale": {"domain": ["wt","ΔguaB1","ΔguaB1 FLAG-guaB1"], "range": [90, 65, 45]}, "legend": null}
              }
            },
            {
              "transform": [{"filter": "false"}],
              "mark": {"type": "point", "filled": true, "opacity": 1, "strokeWidth": 2.5},
              "encoding": {
                "x": {"field": "t", "type": "quantitative", "axis": null},
                "y": {"field": "v", "type": "quantitative", "axis": null},
                "color": {"field": "s", "type": "nominal", "scale": {"domain": ["wt","ΔguaB1","ΔguaB1 FLAG-guaB1"], "range": ["#f24646","#5353f5","#f8a444"]},
                  "legend": {"title": null, "orient": "none", "legendX": 161, "legendY": 160, "symbolSize": 100, "symbolStrokeWidth": 2.5, "symbolOpacity": 1, "labelFontSize": 22, "labelOffset": 31, "strokeColor": "black", "padding": 4, "rowPadding": 6,
                    "labelExpr": "datum.value == 'ΔguaB1 FLAG-guaB1' ? ['ΔguaB1', 'FLAG-guaB1'] : datum.value",
                    "encode": {"labels": {"update": {"fontStyle": {"signal": "datum.value == 'wt' ? 'normal' : 'italic'"}}}}}},
                "stroke": {"field": "s", "type": "nominal", "scale": {"domain": ["wt","ΔguaB1","ΔguaB1 FLAG-guaB1"], "range": ["#f24646","#5353f5","#f8a444"]},
                  "legend": {"title": null, "orient": "none", "legendX": 161, "legendY": 160, "symbolSize": 100, "symbolStrokeWidth": 2.5, "symbolOpacity": 1, "labelFontSize": 22, "labelOffset": 31, "strokeColor": "black", "padding": 4, "rowPadding": 6,
                    "labelExpr": "datum.value == 'ΔguaB1 FLAG-guaB1' ? ['ΔguaB1', 'FLAG-guaB1'] : datum.value",
                    "encode": {"labels": {"update": {"fontStyle": {"signal": "datum.value == 'wt' ? 'normal' : 'italic'"}}}}}},
                "shape": {"field": "s", "type": "nominal", "scale": {"domain": ["wt","ΔguaB1","ΔguaB1 FLAG-guaB1"], "range": ["M-1,0H5M3,0A1,1,0,1,1,1,0A1,1,0,1,1,3,0Z", "M-1,0H5M1.1,-0.9H2.9V0.9H1.1Z", "M-1,0H5M2,-1L3,0.75H1Z"]},
                  "legend": {"title": null, "orient": "none", "legendX": 161, "legendY": 160, "symbolSize": 100, "symbolStrokeWidth": 2.5, "symbolOpacity": 1, "labelFontSize": 22, "labelOffset": 31, "strokeColor": "black", "padding": 4, "rowPadding": 6,
                    "labelExpr": "datum.value == 'ΔguaB1 FLAG-guaB1' ? ['ΔguaB1', 'FLAG-guaB1'] : datum.value",
                    "encode": {"labels": {"update": {"fontStyle": {"signal": "datum.value == 'wt' ? 'normal' : 'italic'"}}}}}}
              }
            }
          ],
          "resolve": {
            "axis": {"x": "independent", "y": "independent"},
            "scale": {"color": "independent", "stroke": "independent", "shape": "independent", "size": "independent"},
            "legend": {"color": "independent", "stroke": "independent", "shape": "independent", "size": "independent"}
          }
        }
      ]
    }
  ]
}
